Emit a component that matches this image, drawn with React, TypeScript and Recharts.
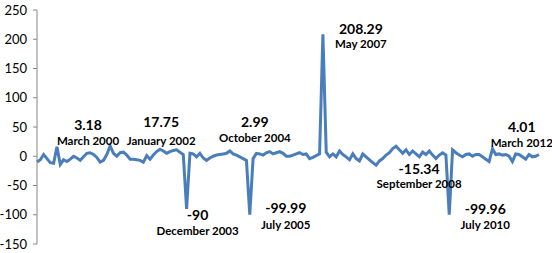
import React from 'react';
import { LineChart, Line, XAxis, YAxis, LabelList } from 'recharts';

const MONTH_NAMES = [
  'January', 'February', 'March', 'April', 'May', 'June',
  'July', 'August', 'September', 'October', 'November', 'December',
];

// monthly change, March 2000 .. October 2012
const VALUES = [
  -10, -6, 3, -4, -11, -12, 16, -14, -6, -9,
  -5, 0, -3, -7, -1, 5, 6, 3, -2, -10,
  -7, 3, 17.75, 5, 0, 6, 7, 2, -5, -5,
  -6, -7, -10, 1, -5, 2, 8, 12, 9, 5,
  8, 10, 11, 7, 3, -90, 5, 4, -1, 5,
  -3, -7, -3, 0, 2, 2.99, 4, 5, 9, 4,
  2, -1, -4, -7, -99.99, -4, 5, 4, 2, 6,
  8, 4, 6, 8, 5, 0, 0, 2, 4, 6,
  3, 4, -4, -2, 1, 4, 208.29, 7, -1, 4,
  -1, 9, 3, -1, -6, 4, -4, -8, 4, -1,
  -6, -11, -15.34, -8, -4, 2, 6, 13, 17, 11,
  5, 11, 3, 9, 4, -1, 7, 3, 9, 2,
  -4, 2, 6, 2, -99.96, 11, 6, 2, -1, 3,
  4, 0, 3, 3, -1, -5, -9, 13, 3, 4,
  2, 3, 0, -9, 4.01, 3, -1, -5, 3, -1,
  0, 3,
];

const MONTHS = VALUES.map((_, i) => {
  const m = (2 + i) % 12;
  const y = 2000 + Math.floor((2 + i) / 12);
  return `${MONTH_NAMES[m]} ${y}`;
});

const Y_TICKS = [-150, -100, -50, 0, 50, 100, 150, 200, 250];

// annotated points and the figures printed next to them
const NOTE_MONTHS = [
  'March 2000', 'January 2002', 'December 2003', 'October 2004', 'July 2005',
  'May 2007', 'September 2008', 'July 2010', 'March 2012',
];
const NOTE_VALUES = ['3.18', '17.75', '-90', '2.99', '-99.99', '208.29', '-15.34', '-99.96', '4.01'];

// where each note sits relative to its point (px): dx, dy value, dy month
const NOTE_OFFSETS: Record<string, [number, number, number]> = {
  'March 2000': [51, -38, -22],
  'January 2002': [51, -24, -5],
  'December 2003': [11, 6, 22],
  'October 2004': [35, -33, -17],
  'July 2005': [36, -7, 10],
  'May 2007': [38, -6, 9],
  'September 2008': [43, 3, 18],
  'July 2010': [36, -6, 10],
  'March 2012': [6, -27, -11],
};

const data = MONTHS.map((month, i) => ({ month, value: VALUES[i] }));

const NoteLabel = (props: any) => {
  const { x, y, index } = props;
  const month = MONTHS[index];
  const n = NOTE_MONTHS.indexOf(month);
  if (n < 0) return null;
  const [dx, dy, dyName] = NOTE_OFFSETS[month];
  return (
    <g>
      <text x={x + dx} y={y + dy} textAnchor="middle" dominantBaseline="central"
        fontSize={14} fontWeight={700} fill="#000">
        {NOTE_VALUES[n]}
      </text>
      <text x={x + dx} y={y + dyName} textAnchor="middle" dominantBaseline="central"
        fontSize={11.5} fontWeight={700} fill="#000">
        {month}
      </text>
    </g>
  );
};

export default function App() {
  return (
    <div style={{ position: 'absolute', left: 0, top: 0, fontFamily: 'Lato, sans-serif' }}>
      <LineChart width={552} height={253} data={data}
        margin={{ top: 10, right: 13, bottom: 9, left: 0 }}>
        <XAxis dataKey="month" hide />
        <YAxis
          width={37}
          domain={[-150, 250]}
          ticks={Y_TICKS}
          interval={0}
          axisLine={{ stroke: '#868686' }}
          tickLine={{ stroke: '#868686' }}
          tickSize={4}
          tickMargin={6}
          tick={{ fill: '#000', fontSize: 13 }}
        />
        <Line
          type="linear"
          dataKey="value"
          stroke="#4a7ebb"
          strokeWidth={3}
          dot={false}
          isAnimationActive={false}
        >
          <LabelList dataKey="value" content={NoteLabel} />
        </Line>
      </LineChart>
    </div>
  );
}
